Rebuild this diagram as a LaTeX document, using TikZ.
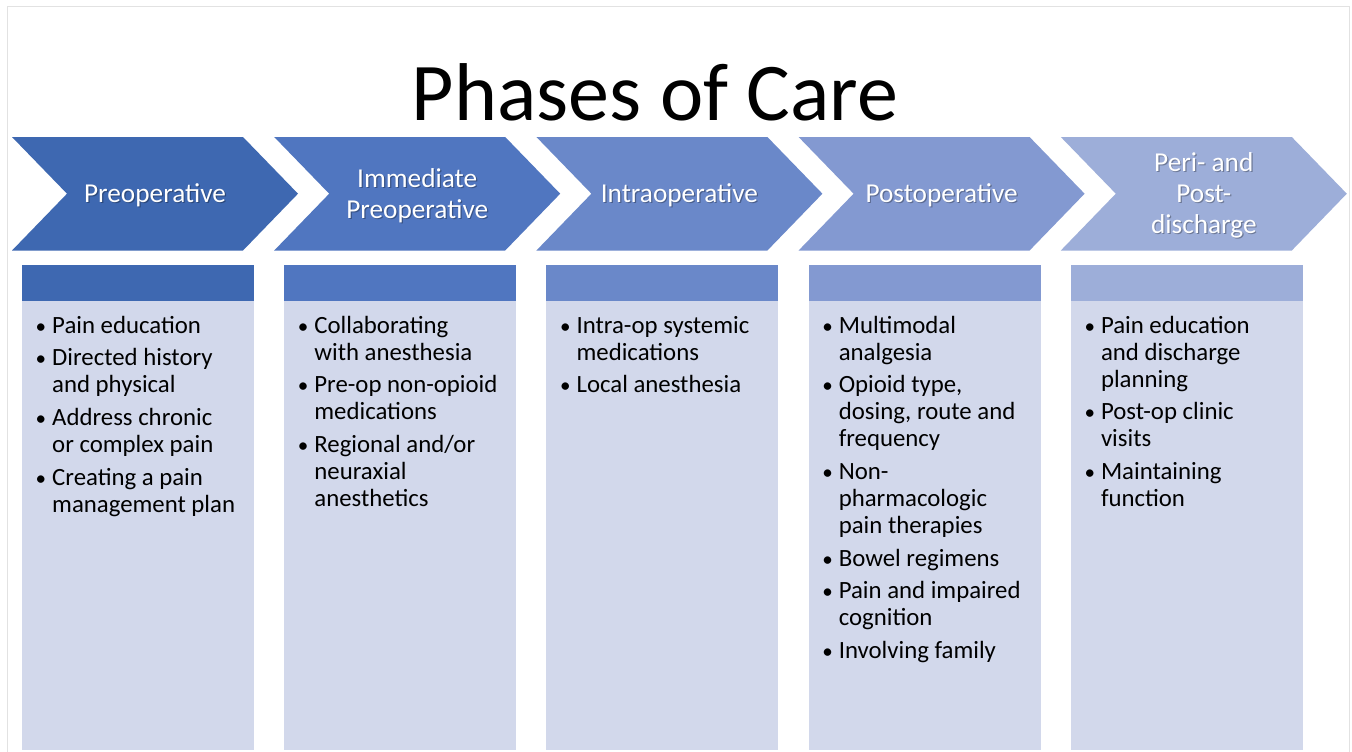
\documentclass[tikz,border=0pt]{standalone}
\usepackage{fontspec}
\setmainfont{Carlito}
\begin{document}
\begin{tikzpicture}[x=1pt,y=-1pt,
  label/.style={text=white,align=center,inner sep=0pt,
    font=\fontsize{27.3}{31}\selectfont},
  labelshadow/.style={text=black,opacity=0.3,align=center,inner sep=0pt,
    font=\fontsize{27.3}{31}\selectfont},
  items/.style={anchor=base west,inner sep=0pt,text=black}]
\definecolor{cA}{RGB}{62,104,177}
\definecolor{cB}{RGB}{80,118,192}
\definecolor{cC}{RGB}{106,136,201}
\definecolor{cD}{RGB}{131,153,209}
\definecolor{cE}{RGB}{157,174,217}
\definecolor{bodyblue}{RGB}{210,216,235}
\definecolor{frame}{RGB}{226,226,226}

% page and slide frame
\fill[white] (0,0) rectangle (1352,752);
\useasboundingbox (0,0) rectangle (1352,752);
\draw[frame,line width=1pt] (7,770) -- (7,7) -- (1349,7) -- (1349,770);

% title
\node[anchor=base,inner sep=0pt,font=\fontsize{82}{82}\selectfont] (title) at (655,120) {Phases of Care};

% bullet list helper
\newcommand\bitem{\par\hangindent=15pt\hangafter=1\noindent
  \makebox[15pt][l]{\hspace*{-1.5pt}\scalebox{0.85}{\textbullet}}}
\newcommand\itemlist[1]{\begin{minipage}[t]{250pt}\fontsize{24.8}{27}\selectfont
  \setlength\parskip{5.7pt}\raggedright #1\end{minipage}}

% chevrons, header strips and list panels
\foreach \i/\col/\txt in {
  0/cA/{Preoperative},
  1/cB/{Immediate\\Preoperative},
  2/cC/{Intraoperative},
  3/cD/{Postoperative},
  4/cE/{Peri- and\\Post-\\discharge}} {
  \pgfmathsetmacro{\L}{12+262.2*\i}
  \fill[\col] (\L,137) -- ({\L+231},137) -- ({\L+286},193.7) -- ({\L+231},250.5)
    -- (\L,250.5) -- ({\L+55},193.7) -- cycle;
  \node[labelshadow] (shadow\i) at ({\L+143+1.2},{195.5+1.2}) {\txt};
  \node[label] (phase\i) at ({\L+143},195.5) {\txt};
  \fill[\col] ({\L+10},265) rectangle ({\L+242},300.5);
  \fill[bodyblue] ({\L+10},300.5) rectangle ({\L+242},750);
}

% list contents
\node[items] (list0) at (37,333) {\itemlist{%
  \bitem Pain education
  \bitem Directed history\newline and physical
  \bitem Address chronic\newline or complex pain
  \bitem Creating a pain\newline management plan}};
\node[items] (list1) at ({37+262.2},333) {\itemlist{%
  \bitem Collaborating\newline with anesthesia
  \bitem Pre-op non-opioid\newline medications
  \bitem Regional and/or\newline neuraxial\newline anesthetics}};
\node[items] (list2) at ({37+2*262.2},333) {\itemlist{%
  \bitem Intra-op systemic\newline medications
  \bitem Local anesthesia}};
\node[items] (list3) at ({37+3*262.2},333) {\itemlist{%
  \bitem Multimodal\newline analgesia
  \bitem Opioid type,\newline dosing, route and\newline frequency
  \bitem Non-\newline pharmacologic\newline pain therapies
  \bitem Bowel regimens
  \bitem Pain and impaired\newline cognition
  \bitem Involving family}};
\node[items] (list4) at ({37+4*262.2},333) {\itemlist{%
  \bitem Pain education\newline and discharge\newline planning
  \bitem Post-op clinic\newline visits
  \bitem Maintaining\newline function}};
\end{tikzpicture}
\end{document}
